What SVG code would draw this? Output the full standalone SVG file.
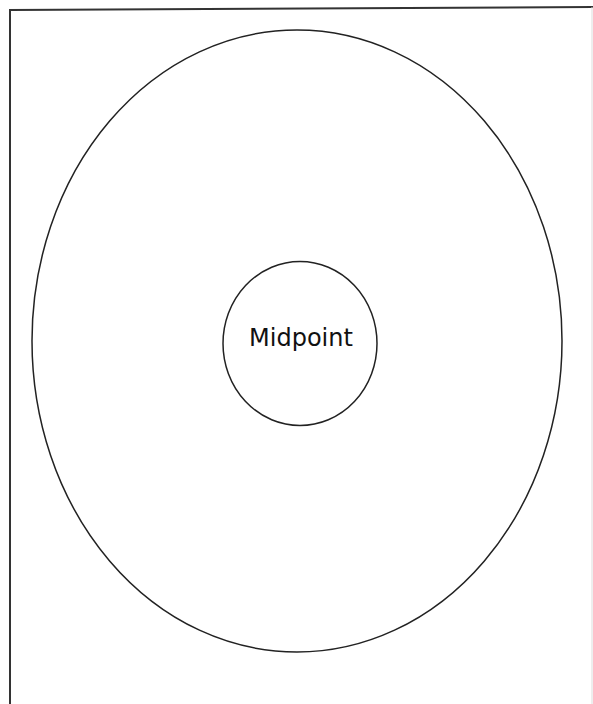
<svg xmlns="http://www.w3.org/2000/svg" width="593" height="704" viewBox="0 0 593 704">
<style>
.shape{fill:none;stroke:#222;stroke-width:1.5}
.frame{fill:none;stroke:#333;stroke-width:2}
.label{font-family:"DejaVu Sans","Liberation Sans",sans-serif;font-size:24px;fill:#111}
</style>
<rect width="593" height="704" fill="#fff"/>
<g id="frame"><path class="frame" d="M10 704 V10 L593 7"/><path d="M592 7 V704" fill="none" stroke="#ddd" stroke-width="1"/></g>
<g id="outer"><ellipse class="shape" cx="297" cy="341" rx="265" ry="311"/></g>
<g id="midpoint"><ellipse class="shape" cx="300" cy="343.5" rx="77" ry="82"/><text class="label" x="301" y="345.5" text-anchor="middle">Midpoint</text></g>
<g id="connectors"/>
</svg>
